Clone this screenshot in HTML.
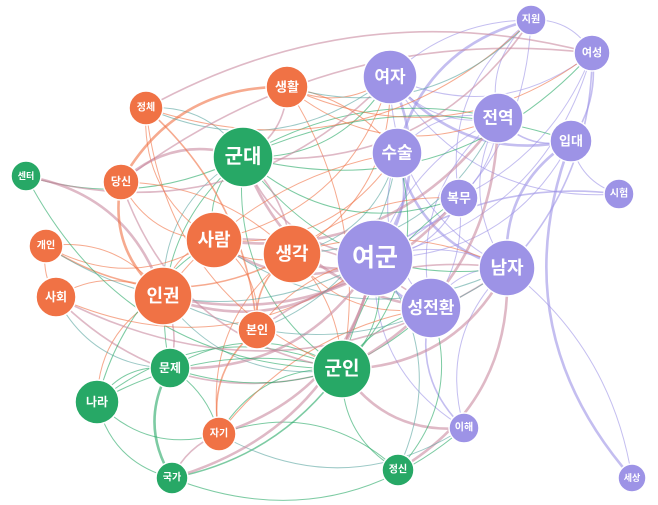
<!DOCTYPE html>
<html><head><meta charset="utf-8"><style>
html,body{margin:0;padding:0;background:#fff;width:658px;height:505px;overflow:hidden}
svg{display:block}
text{font-family:"Liberation Sans","Noto Sans CJK KR","NanumGothic",sans-serif;font-weight:bold;fill:#fff;text-anchor:middle;dominant-baseline:central}
circle{stroke:#fff;stroke-width:1.5}
.p{fill:#9d93e6}.o{fill:#f07245}.g{fill:#27a866}
</style></head><body>
<svg id="s" width="658" height="505" viewBox="0 0 658 505">
<g id="e" fill="none"></g>
<g>
<circle class="p" cx="531" cy="20" r="15"/><text x="531" y="20" font-size="10">지원</text>
<circle class="p" cx="592" cy="53" r="18"/><text x="592" y="53" font-size="11">여성</text>
<circle class="p" cx="390" cy="77" r="27"/><text x="390" y="77" font-size="17">여자</text>
<circle class="p" cx="498" cy="118" r="25"/><text x="498" y="118" font-size="17">전역</text>
<circle class="p" cx="571" cy="141" r="21"/><text x="571" y="141" font-size="13">입대</text>
<circle class="p" cx="397" cy="153" r="25"/><text x="397" y="153" font-size="17">수술</text>
<circle class="p" cx="459" cy="198" r="19"/><text x="459" y="198" font-size="13">복무</text>
<circle class="p" cx="619" cy="194" r="15"/><text x="619" y="194" font-size="10">시험</text>
<circle class="p" cx="375" cy="258" r="38"/><text x="375" y="258" font-size="25">여군</text>
<circle class="p" cx="507" cy="268" r="28"/><text x="507" y="268" font-size="18">남자</text>
<circle class="p" cx="431" cy="308" r="30"/><text x="431" y="308" font-size="17">성전환</text>
<circle class="p" cx="464" cy="428" r="15"/><text x="464" y="428" font-size="10">이해</text>
<circle class="p" cx="632" cy="478" r="14"/><text x="632" y="478" font-size="9">세상</text>
<circle class="o" cx="287" cy="87" r="21"/><text x="287" y="87" font-size="13">생활</text>
<circle class="o" cx="146" cy="108" r="17"/><text x="146" y="108" font-size="10">정체</text>
<circle class="o" cx="121" cy="182" r="18"/><text x="121" y="182" font-size="11">당신</text>
<circle class="o" cx="214" cy="240" r="28"/><text x="214" y="240" font-size="18">사람</text>
<circle class="o" cx="292" cy="254" r="29"/><text x="292" y="254" font-size="18">생각</text>
<circle class="o" cx="46" cy="246" r="17"/><text x="46" y="246" font-size="10">개인</text>
<circle class="o" cx="56" cy="297" r="20"/><text x="56" y="297" font-size="12">사회</text>
<circle class="o" cx="163" cy="296" r="29"/><text x="163" y="296" font-size="18">인권</text>
<circle class="o" cx="257" cy="330" r="19"/><text x="257" y="330" font-size="12">본인</text>
<circle class="o" cx="219" cy="434" r="17"/><text x="219" y="434" font-size="10">자기</text>
<circle class="g" cx="243" cy="157" r="30"/><text x="243" y="157" font-size="20">군대</text>
<circle class="g" cx="26" cy="176" r="15"/><text x="26" y="176" font-size="9">센터</text>
<circle class="g" cx="170" cy="368" r="20"/><text x="170" y="368" font-size="12">문제</text>
<circle class="g" cx="342" cy="369" r="29"/><text x="342" y="369" font-size="19">군인</text>
<circle class="g" cx="97" cy="402" r="22"/><text x="97" y="402" font-size="12">나라</text>
<circle class="g" cx="172" cy="478" r="16"/><text x="172" y="478" font-size="10">국가</text>
<circle class="g" cx="398" cy="470" r="16"/><text x="398" y="470" font-size="10">정신</text>
</g>
</svg>
<script>
var N={지원:[531,20,'p'],여성:[592,53,'p'],여자:[390,77,'p'],전역:[498,118,'p'],입대:[571,141,'p'],수술:[397,153,'p'],복무:[459,198,'p'],시험:[619,194,'p'],여군:[375,258,'p'],남자:[507,268,'p'],성전환:[431,308,'p'],이해:[464,428,'p'],세상:[632,478,'p'],
생활:[287,87,'o'],정체:[146,108,'o'],당신:[121,182,'o'],사람:[214,240,'o'],생각:[292,254,'o'],개인:[46,246,'o'],사회:[56,297,'o'],인권:[163,296,'o'],본인:[257,330,'o'],자기:[219,434,'o'],
군대:[243,157,'g'],센터:[26,176,'g'],문제:[170,368,'g'],군인:[342,369,'g'],나라:[97,402,'g'],국가:[172,478,'g'],정신:[398,470,'g']};
var C={p:'#9d93e6',o:'#f07245',g:'#27a866'};
var E="여군-여자 여군-전역 여군-입대 여군-수술 여군-복무 여군-남자 여군-성전환 여군-지원 여군-여성 여군-시험 여군-이해 여자-전역 여자-입대 여자-지원 여자-여성 전역-입대 전역-남자 전역-복무 입대-남자 입대-시험 여성-지원 여성-남자 지원-전역 수술-성전환 수술-남자 복무-성전환 남자-성전환 성전환-이해 남자-이해 남자-세상 입대-세상 여자-시험 지원-복무 여성-입대 전역-수술 여자-남자 지원-수술 여성-복무 전역-성전환 군대-여군 군대-여자 군대-전역 군대-성전환 군대-남자 군대-사람 군대-생각 군대-인권 군대-군인 군대-당신 군대-센터 군대-정체 군대-생활 군대-문제 군대-입대 사람-여군 사람-생각 사람-인권 사람-성전환 사람-남자 사람-여자 생각-여군 생각-군인 생각-자기 생각-본인 생각-성전환 생각-남자 인권-센터 인권-개인 인권-사회 인권-문제 인권-군인 인권-나라 인권-여군 사회-개인 사회-문제 사회-군인 생활-여자 생활-군인 생활-당신 생활-전역 정체-사람 정체-본인 정체-여자 당신-사람 당신-인권 당신-생각 개인-사람 개인-생각 군인-여군 군인-성전환 군인-남자 군인-문제 군인-나라 군인-국가 군인-정신 군인-자기 군인-이해 본인-여군 본인-사람 본인-자기 문제-나라 문제-자기 문제-국가 나라-국가 나라-자기 국가-자기 정신-여군 정신-자기 정신-남자 자기-성전환 자기-이해 센터-여자 센터-군인 나라-사람 문제-여군 생활-여성 정체-지원 당신-여성 생각-전역 사람-수술 인권-복무 생활-수술 생각-수술 군대-지원 군대-복무 군인-복무 자기-여군 사회-여군 생각-여자 정체-여성 생활-지원 군대-여성 사람-전역 인권-수술 개인-여군 사회-남자 문제-성전환 나라-군인 국가-여군 국가-이해 정신-성전환 본인-남자 본인-수술 군인-수술 군인-전역 생각-복무 인권-남자 당신-군인 정체-군인".split(' ');
var g=document.getElementById('e'),s='';
E.forEach(function(e,i){var a=e.split('-'),A=N[a[0]],B=N[a[1]];if(!A||!B)return;
var dx=B[0]-A[0],dy=B[1]-A[1],mx=(A[0]+B[0])/2,my=(A[1]+B[1])/2,k=(i%4==1)?-0.2:0.3;
var cx=mx-dy*k,cy=my+dx*k;var col=C[A[2]];if(A[2]!=B[2]&&i%3==0)col='#c98aa0';else if(A[2]!=B[2]&&i%4==2)col='#5aa5a0';
var w=(i%6==0)?2.6:(i%3==0?1.6:1);
s+='<path d="M'+A[0]+' '+A[1]+'Q'+cx.toFixed(1)+' '+cy.toFixed(1)+' '+B[0]+' '+B[1]+'" stroke="'+col+'" stroke-width="'+w+'" stroke-opacity="0.6"/>';});
g.innerHTML=s;
</script>
</body></html>
